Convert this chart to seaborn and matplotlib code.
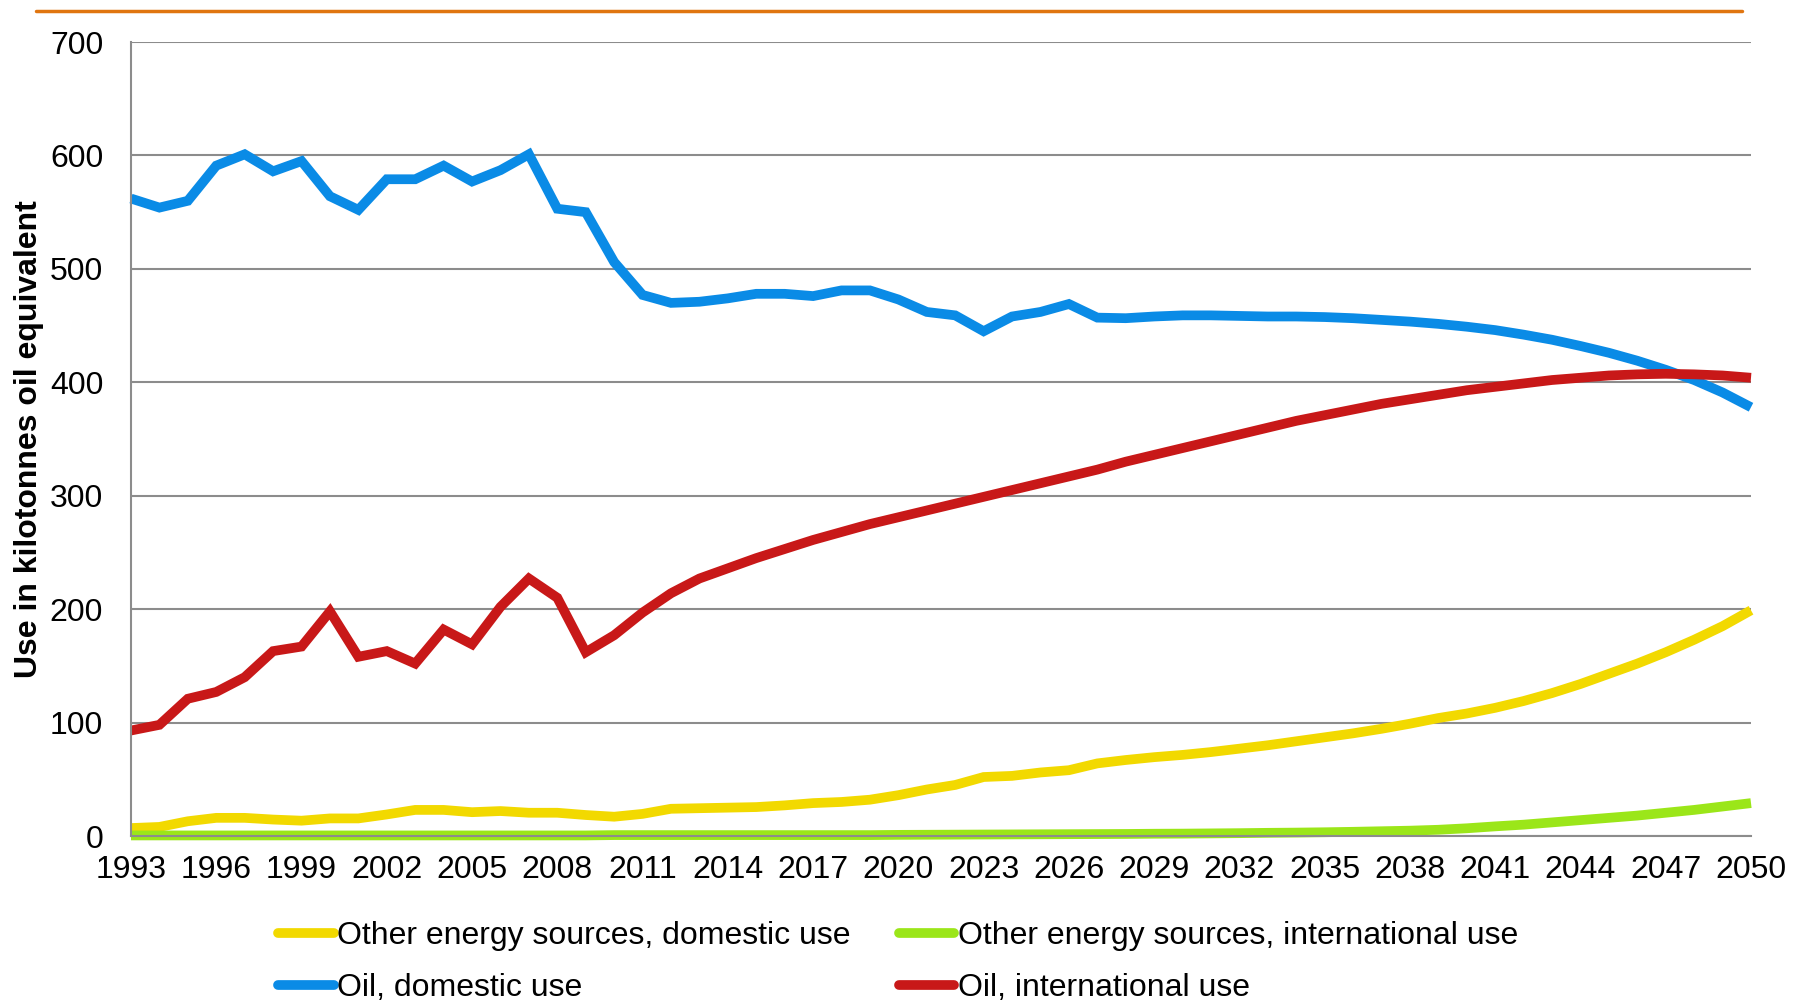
import numpy as np
import pandas as pd
import matplotlib
matplotlib.use("Agg")
import matplotlib.pyplot as plt
from matplotlib.lines import Line2D
import seaborn as sns

years = list(range(1993, 2051))

oil_domestic = [562, 554, 560, 591, 601, 586, 595, 564, 552, 579,
                579, 591, 577, 587, 601, 553, 550, 506, 477, 470,
                471, 474, 478, 478, 476, 481, 481, 473, 462, 459,
                445, 458, 462, 469, 457, 456.5, 458, 459, 459, 458.5,
                458, 458, 457.5, 456.5, 455, 453.5, 451.5, 449, 446, 442,
                437.5, 432, 426, 419, 411, 402, 391, 378]

oil_international = [93, 98, 121, 127, 140, 163, 167, 198, 158, 163,
                     152, 182, 169, 202, 227, 210, 162, 177, 197, 214,
                     227, 236, 245, 253, 261, 268, 275, 281, 287, 293,
                     299, 305, 311, 317, 323, 330, 336, 342, 348, 354,
                     360, 366, 371, 376, 381, 385, 389, 393, 396, 399,
                     402, 404, 406, 407, 407.5, 407, 406, 404]

other_domestic = [7, 8, 13, 16, 16, 14.5, 13.5, 15.5, 15.5, 19,
                  23, 23, 21, 22, 20.5, 20.5, 18.5, 17, 19.5, 24,
                  24.5, 25, 25.5, 27, 29, 30, 32, 36, 41, 45,
                  52, 53, 56, 58, 64, 67, 69.5, 71.5, 74, 77,
                  80, 83.5, 87, 90.5, 94.5, 99, 104, 108, 113, 119,
                  126, 134, 143, 152, 162, 173, 185, 199]

other_international = [0.5] * 17 + [0.8] * 10 + [
    1, 1.1, 1.2, 1.3, 1.4, 1.5, 1.6, 1.7, 1.8, 2,
    2.1, 2.3, 2.5, 2.8, 3, 3.3, 3.7, 4.2, 4.7, 5.5,
    6.8, 8.5, 10, 12, 14, 16, 18, 20.5, 23, 26, 29]

names = ["Other energy sources, domestic use",
         "Other energy sources, international use",
         "Oil, domestic use",
         "Oil, international use"]
colors = ["#F2D900", "#9BE619", "#0A8BE6", "#C81818"]

df = pd.DataFrame({
    "year": years * 4,
    "value": other_domestic + other_international + oil_domestic + oil_international,
    "series": sum([[n] * len(years) for n in names], []),
})

sns.set_style("white")
plt.rcParams["font.family"] = ["Liberation Sans", "DejaVu Sans"]
plt.rcParams["text.color"] = "black"

fig = plt.figure(figsize=(18.04, 10), dpi=100)
ax = fig.add_axes([131 / 1804, 1 - 836 / 1000, (1751 - 131) / 1804, (836 - 42) / 1000])

sns.lineplot(data=df, x="year", y="value", hue="series", hue_order=names,
             palette=dict(zip(names, colors)), linewidth=7, legend=False, ax=ax)
for ln in ax.get_lines():
    ln.set_clip_on(False)
    ln.set_solid_capstyle("butt")
    ln.set_solid_joinstyle("miter")

ax.set_xlim(1993, 2050)
ax.set_ylim(0, 700)
ax.set_xticks(range(1993, 2051, 3))
ax.set_yticks(range(0, 701, 100))
ax.yaxis.grid(True, color="#8c8c8c", linewidth=1.5)
ax.set_axisbelow(True)
for s in ["top", "right"]:
    ax.spines[s].set_visible(False)
for s in ["left", "bottom"]:
    ax.spines[s].set_color("#8c8c8c")
    ax.spines[s].set_linewidth(1.5)
ax.tick_params(axis="both", direction="out", length=7, width=1.1, color="#8c8c8c",
               labelsize=23, labelcolor="black")
ax.tick_params(axis="y", pad=13)
ax.tick_params(axis="x", pad=7)
ax.set_xlabel("")
ax.set_ylabel("Use in kilotonnes oil equivalent", fontsize=23, fontweight="bold", color="black")
ax.yaxis.set_label_coords(-0.054, 0.5)

# orange rule at top
fig.add_artist(Line2D([36 / 1804, 1742 / 1804], [0.9895, 0.9895],
                      color="#E07510", linewidth=2.5, transform=fig.transFigure))

order = [0, 2, 1, 3]
handles = [Line2D([], [], color=colors[i], linewidth=7, solid_capstyle="round") for i in order]
leg = fig.legend(handles, [names[i] for i in order], loc="upper left",
                 bbox_to_anchor=(278 / 1804, 0.079), ncol=2, frameon=False,
                 fontsize=23, handlelength=1.75, handletextpad=0.1,
                 columnspacing=1.5, labelspacing=0.68, borderpad=0, borderaxespad=0)
for t in leg.get_texts():
    t.set_color("black")

fig.savefig("out.png", dpi=100)
